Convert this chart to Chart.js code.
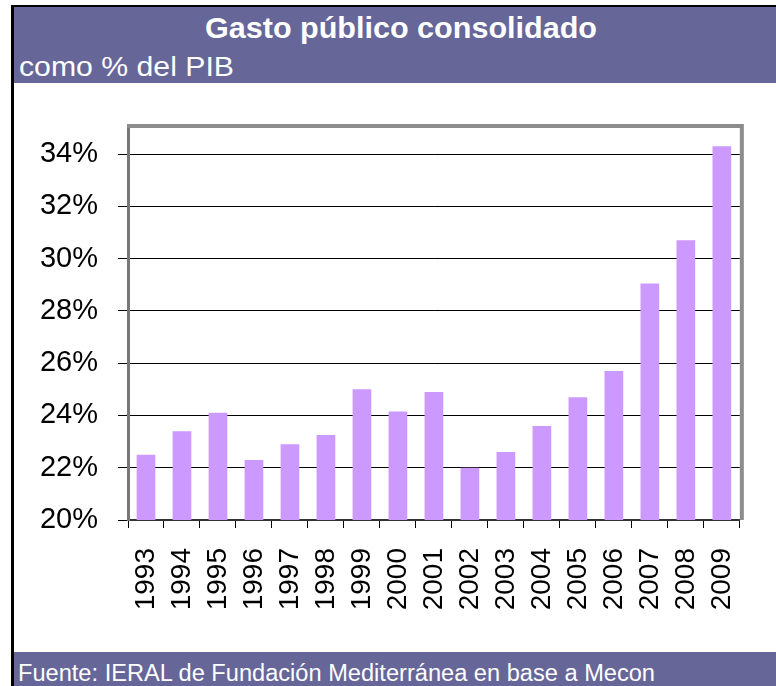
<!DOCTYPE html>
<html>
<head>
<meta charset="utf-8">
<script src="https://cdn.jsdelivr.net/npm/chart.js@4/dist/chart.umd.min.js"></script>
<style>
  html, body { margin: 0; padding: 0; background: #fff; }
  body { position: relative; width: 776px; height: 686px; overflow: hidden; font-family: "Liberation Sans", Arial, sans-serif; }
  .linea { position: absolute; background: #000; }
  .banda { position: absolute; left: 14px; right: 0; background: #666699; }
  .texto { position: absolute; color: #fff; line-height: 1; white-space: nowrap; transform-origin: 0 0; }
  #lienzo { position: absolute; left: 14px; top: 83px; width: 762px; height: 569px; }
</style>
</head>
<body>
<div class="linea" style="left:11px; top:5px; width:765px; height:2px;"></div>
<div class="linea" style="left:11px; top:5px; width:3px; height:681px;"></div>
<div class="banda" style="top:7px; height:76px;"></div>
<div class="banda" style="top:652px; height:34px;"></div>
<div id="titulo" class="texto" style="left:205px; top:12.6px; font-size:30px; font-weight:bold;" data-ancho="392">Gasto público consolidado</div>
<div id="subtitulo" class="texto" style="left:19px; top:53.3px; font-size:28px;" data-ancho="215">como % del PIB</div>
<div id="fuente" class="texto" style="left:18px; top:661.5px; font-size:23px;" data-ancho="637">Fuente: IERAL de Fundación Mediterránea en base a Mecon</div>
<div id="lienzo"><canvas id="grafico"></canvas></div>

<script>
// datos
const anios = ['1993', '1994', '1995', '1996', '1997', '1998', '1999', '2000', '2001',
  '2002', '2003', '2004', '2005', '2006', '2007', '2008', '2009'];
const gastoPib = [22.5, 23.4, 24.1, 22.3, 22.9, 23.25, 25.0, 24.15, 24.9,
  22.0, 22.6, 23.6, 24.7, 25.7, 29.05, 30.7, 34.3];
const ejeMin = 20;
const ejeMax = 35;
const pasoEje = 2;

// ajusta los textos del encabezado al ancho de la imagen
function ajustarTextos() {
  document.querySelectorAll('.texto').forEach(el => {
    el.style.transform = 'none';
    const ancho = el.getBoundingClientRect().width;
    const objetivo = parseFloat(el.dataset.ancho);
    el.style.transform = 'scaleX(' + (objetivo / ancho) + ')';
  });
}

// marco gris del area de trazado
const marcoPlot = {
  id: 'marcoPlot',
  afterDraw(chart) {
    const a = chart.chartArea;
    const ctx = chart.ctx;
    ctx.save();
    ctx.strokeStyle = '#8c8c8c';
    ctx.lineWidth = 4;
    ctx.beginPath();
    ctx.moveTo(a.left - 1, a.top - 2);
    ctx.lineTo(a.right + 2, a.top - 2);
    ctx.lineTo(a.right + 2, a.bottom);
    ctx.stroke();
    ctx.restore();
  }
};

function crearGrafico() {
  const ctx = document.getElementById('grafico').getContext('2d');
  new Chart(ctx, {
    type: 'bar',
    data: {
      labels: anios,
      datasets: [{
        label: 'Gasto público consolidado',
        data: gastoPib,
        backgroundColor: '#cc99ff',
        borderWidth: 0,
        categoryPercentage: 1,
        barPercentage: 0.52
      }]
    },
    options: {
      responsive: true,
      maintainAspectRatio: false,
      animation: false,
      layout: { padding: { top: 45, right: 19, left: 0, bottom: 0 } },
      plugins: {
        legend: { display: false },
        tooltip: { enabled: false }
      },
      scales: {
        x: {
          grid: {
            display: true,
            drawOnChartArea: false,
            drawTicks: true,
            tickLength: 8,
            color: '#000',
            offset: true
          },
          border: { display: true, color: '#333', width: 2 },
          ticks: {
            color: '#000',
            font: { family: 'Liberation Sans, Arial, sans-serif', size: 28 },
            minRotation: 90,
            maxRotation: 90,
            padding: 20,
            autoSkip: false
          },
          afterFit(scale) { scale.height = 132; }
        },
        y: {
          min: ejeMin,
          max: ejeMax,
          grid: {
            color: '#000',
            lineWidth: 1,
            tickLength: 10,
            drawTicks: true
          },
          border: { display: true, color: '#777', width: 3 },
          ticks: {
            stepSize: pasoEje,
            includeBounds: false,
            color: '#000',
            padding: 20,
            font: { family: 'Liberation Sans, Arial, sans-serif', size: 29 },
            callback: v => v + '%'
          },
          afterFit(scale) { scale.width = 114; }
        }
      }
    },
    plugins: [marcoPlot]
  });
}

window.onload = () => {
  ajustarTextos();
  crearGrafico();
};
</script>
</body>
</html>
